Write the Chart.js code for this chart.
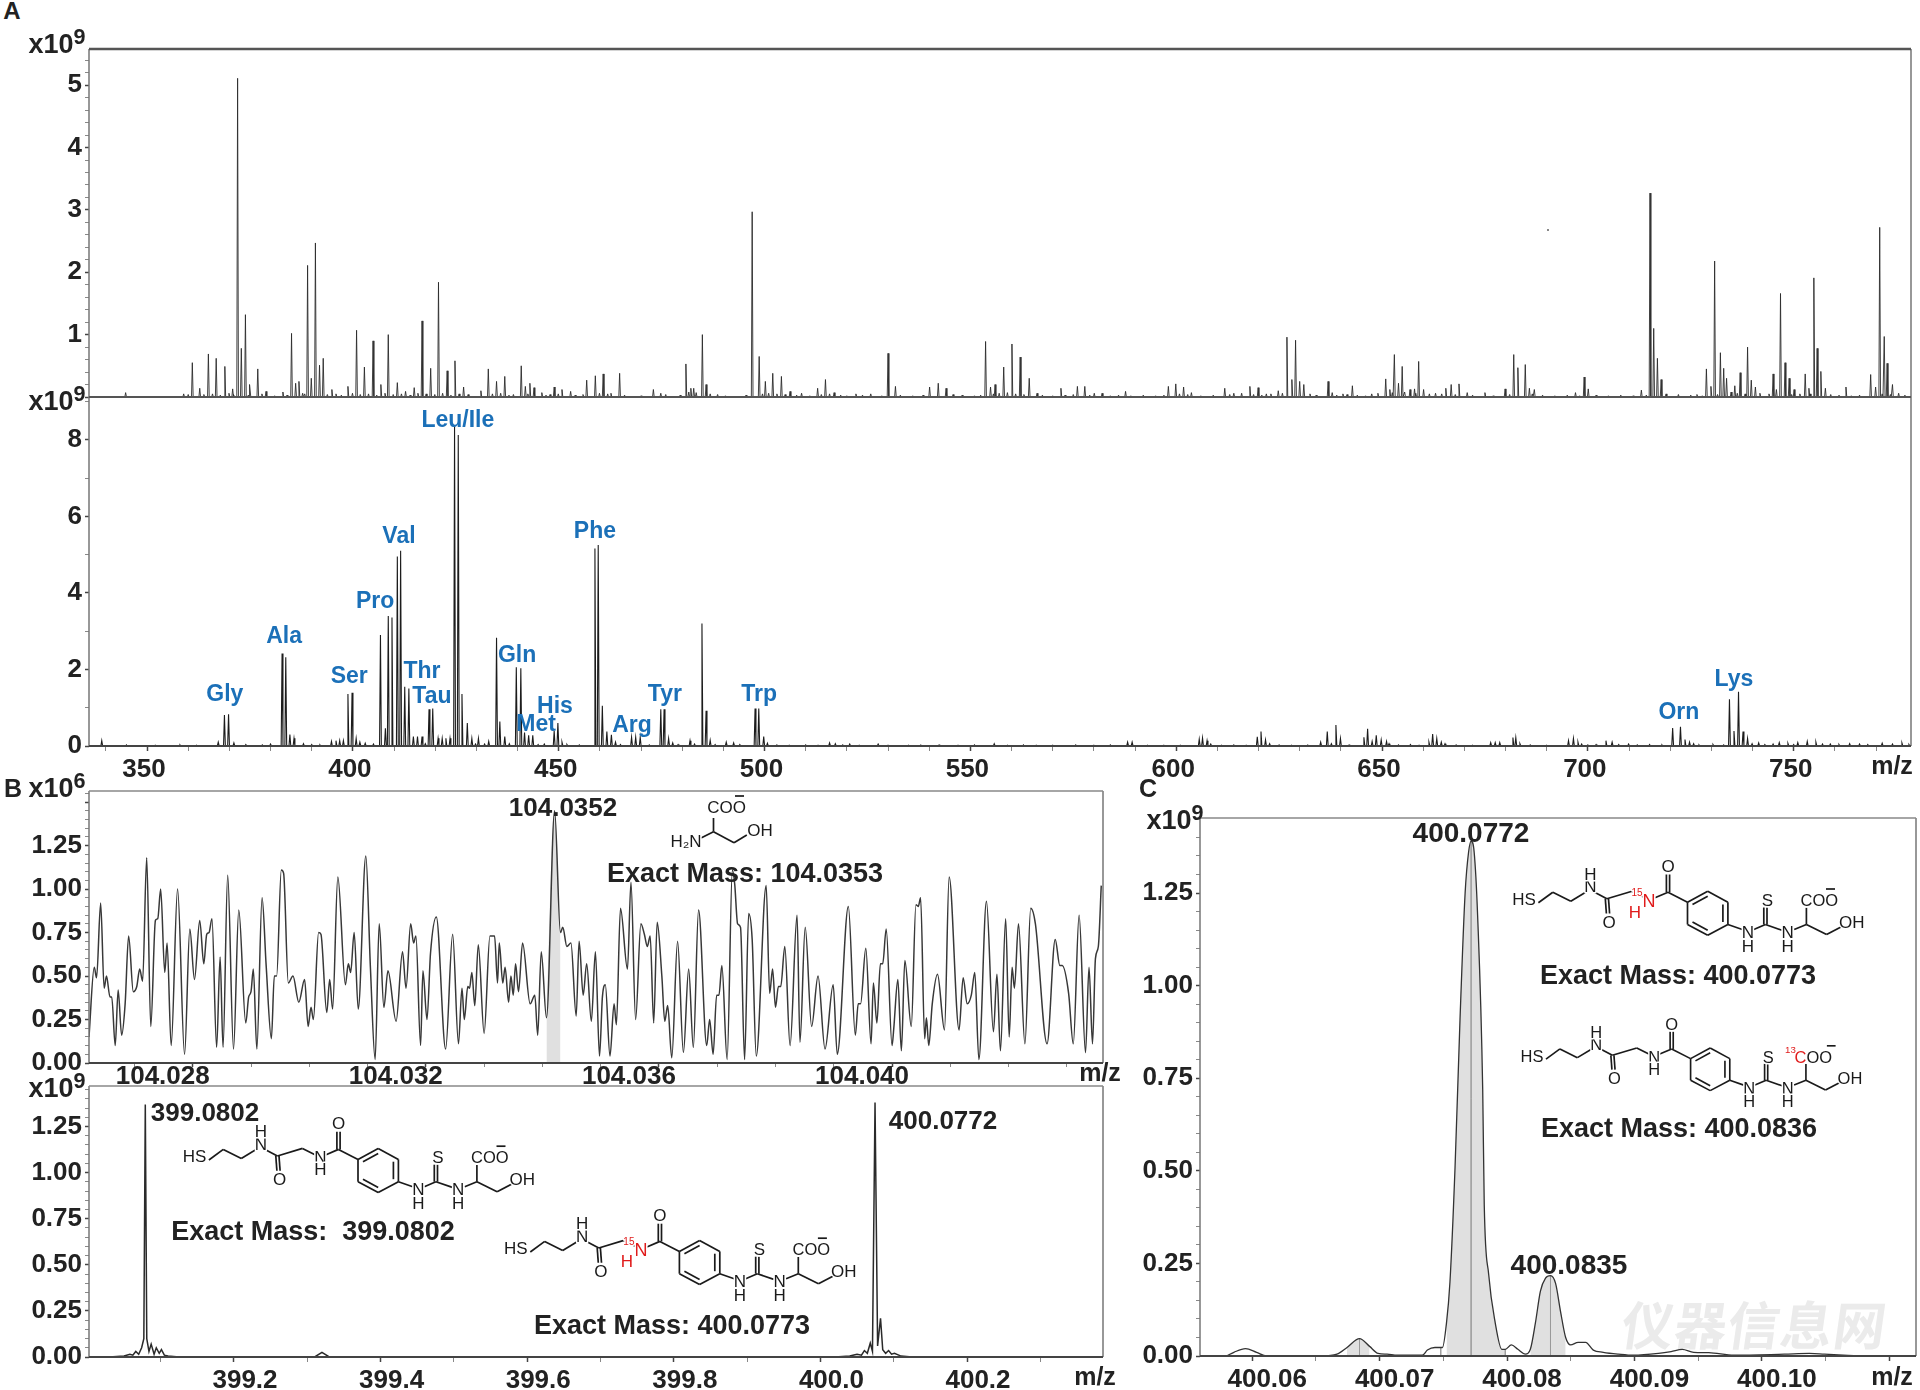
<!DOCTYPE html>
<html>
<head>
<meta charset="utf-8">
<style>
html, body { margin: 0; padding: 0; background: #fff; }
#page { position: relative; width: 1920px; height: 1390px; overflow: hidden; font-family: "Liberation Sans", Arial, sans-serif; }
#page canvas { position: absolute; }
#page svg { position: absolute; left: 0; top: 0; }
.lab { position: absolute; transform: translate(-50%, -50%); font-weight: bold; color: #222; white-space: nowrap; line-height: 1; }
.lab sup { font-size: 0.8em; vertical-align: 0.4em; line-height: 0; }
</style>
<script src="https://cdn.jsdelivr.net/npm/chart.js@4"></script>
</head>
<body>
<div id="page">
<div class="lab" style="left:1755px;top:1322px;font:bold 52px 'Noto Sans CJK SC';color:#ebebeb;letter-spacing:1px;transform:translate(-50%,-50%) skewX(-8deg)">仪器信息网</div>
</div>
<script>
// ---- panel A, upper spectrum
var topMz = [344.8,358.9,360,361,362.8,364.9,366.8,368.9,370.8,372,372.9,373.9,375,376.9,378.9,383,385.1,386.1,386.9,389,389.9,390.9,391.9,392.8,394.9,398.8,400.9,402.8,404.9,406.8,408.6,410.8,412.8,414.9,416.8,418.9,420.8,422.9,424.8,426.9,431.1,432.9,434.9,436.9,440.9,441.9,443,444,445.9,448.9,450.8,452.9,456.8,458.9,460.8,462.7,464.8,473,474.8,480.9,482.1,482.8,484.9,485.8,488.6,497,498.7,500.2,502,504.1,506.2,509,512.9,514.8,516.9,522.2,525.8,530,531.8,540.1,542.2,544.1,553.7,554.9,556,558.1,560.1,562.1,564.3,566.2,572,576,577.8,580.1,582,587.7,598.1,599.9,601.8,603.7,611.8,614,615.9,617.9,619.9,621.9,624.8,626.9,628.1,629,630,631,636.9,637.9,640.5,642.8,647.5,650.9,651.9,653,654,654.9,656.8,657.9,658.9,660.1,665.5,666.8,668.7,670.7,675,679.9,682,683,684.8,685.8,687,697,699.1,700.1,713,715.1,716,716.9,717.8,726.5,728.8,729.9,730.8,732.2,733,733.7,735.7,737,738.8,739.7,740.7,745,745.8,746.8,747.9,748.9,750.1,752.8,753.7,754.9,755.7,756.6,757.7,762.7,768.7,769.9,770.9,772,772.7,774];
var topInt = [0.07,0.05,0.04,0.55,0.14,0.69,0.62,0.49,0.13,5.11,0.78,1.32,0.2,0.45,0.09,0.08,1.02,0.22,0.25,2.11,0.3,2.47,0.51,0.62,0.12,0.17,1.07,0.48,0.9,0.2,1.0,0.23,0.09,0.15,1.22,0.46,1.84,0.42,0.58,0.16,0.1,0.45,0.25,0.33,0.5,0.17,0.22,0.15,0.07,0.16,0.12,0.09,0.27,0.34,0.37,0.06,0.38,0.12,0.06,0.53,0.14,0.14,1.0,0.2,0.04,2.97,0.65,0.25,0.38,0.33,0.09,0.06,0.14,0.28,0.07,0.05,0.05,0.7,0.17,0.16,0.22,0.14,0.89,0.16,0.2,0.48,0.85,0.64,0.3,0.06,0.14,0.17,0.17,0.06,0.06,0.09,0.17,0.21,0.16,0.07,0.14,0.06,0.06,0.17,0.15,0.05,0.1,0.96,0.28,0.91,0.25,0.2,0.25,0.07,0.05,0.18,0.05,0.29,0.12,0.68,0.22,0.49,0.12,0.13,0.57,0.12,0.14,0.2,0.21,0.07,0.07,0.13,0.68,0.47,0.52,0.14,0.12,0.07,0.32,0.13,0.11,3.27,1.1,0.62,0.28,0.04,0.45,0.17,2.18,0.71,0.46,0.3,0.18,0.39,0.8,0.27,0.16,0.37,0.12,1.66,0.55,0.3,0.12,0.37,0.14,1.91,0.78,0.41,0.14,0.16,0.36,0.16,2.72,0.97,0.54,0.2];
var topGrassMz = [363.8,365.9,367.8,369.9,371.1,374.6,377.9,381,384,387.8,388.3,393.8,395.9,397.2,399.9,401.8,403.8,405.8,407.8,409.8,411.8,413.9,415.8,417.8,419.9,421.8,423.8,425.8,428,433.9,435.9,437.9,439,442.5,446.9,447.9,449.9,454,455.9,459.9,461.9,466,470,476,479.5,481.6,483.4,486.8,490.5,495.5,499.5,501,503,505,507.8,511,513.8,515.8,518.5,520,523.8,528.5,533,536,538.5,545.8,548,551,552.5,555.6,557,559,561,563,567.5,570,573,575,579,584,586,589,592,595,597,600.8,602.8,606,609,613,618.8,620.8,623,625.8,632.5,634,639,641.5,644,646,649,652.5,655.5,658.2,661.5,663,664.5,667.8,672,677,681,686.5,689,692,695,698,702,705,708,711,714.2,719,722,725,727.8,731.5,734.8,736.3,738.2,741.8,744,749.5,751.5,754,759,761,764,766,771.5,773.5,775.5,777];
var topGrassInt = [0.04,0.05,0.03,0.06,0.04,0.03,0.05,0.02,0.03,0.06,0.05,0.04,0.05,0.03,0.06,0.04,0.05,0.03,0.06,0.04,0.05,0.03,0.06,0.05,0.04,0.06,0.03,0.05,0.04,0.05,0.06,0.03,0.04,0.05,0.03,0.04,0.05,0.03,0.04,0.06,0.05,0.03,0.02,0.04,0.03,0.08,0.07,0.05,0.02,0.03,0.05,0.06,0.05,0.04,0.03,0.02,0.04,0.05,0.03,0.02,0.03,0.02,0.03,0.02,0.03,0.04,0.03,0.02,0.03,0.05,0.06,0.07,0.05,0.04,0.03,0.02,0.03,0.04,0.03,0.02,0.03,0.02,0.03,0.02,0.03,0.05,0.04,0.02,0.03,0.04,0.04,0.03,0.05,0.06,0.05,0.03,0.03,0.04,0.03,0.02,0.06,0.07,0.08,0.06,0.05,0.06,0.05,0.04,0.03,0.02,0.04,0.05,0.03,0.02,0.03,0.02,0.03,0.02,0.03,0.02,0.03,0.05,0.04,0.03,0.02,0.04,0.08,0.06,0.05,0.06,0.05,0.04,0.05,0.05,0.04,0.03,0.02,0.03,0.05,0.04,0.06,0.03,0.02];

// ---- panel A, lower spectrum
var lowMz = [339,367.3,368.8,369.8,371.1,382.8,383.7,384.7,385.7,394.8,395.9,396.8,397.7,398.8,399.8,400.8,401.7,406.7,407.9,408.6,409.5,410.8,411.6,412.6,413.6,414.7,415.7,416.8,418.5,419.4,420.7,421.7,422.6,423.6,424.7,425.6,426.5,427.8,428.9,430.5,433,434.9,435.7,436.9,439.7,440.8,441.7,442.7,443.7,448.9,449.8,450.8,458.8,459.6,460.6,461.7,462.8,463.8,467.7,468.7,469.8,474.8,475.6,476.7,477.7,481.9,484.8,485.8,486.8,490.7,492.5,497.7,498.6,499.8,500.7,515.8,517.2,520.7,527.6,542.4,555.8,562.9,575.6,588.2,589.3,605.6,606.4,607.5,608.4,619.7,620.6,621.7,622.7,635.1,636.7,637.7,638.8,639.9,645.6,646.5,647.6,648.6,649.8,651.1,651.7,656.9,661.4,662.3,663.3,664.4,665.3,676.4,677.5,678.6,681.8,682.5,683.5,695.3,696.5,697.6,698.5,704.4,705.9,709.9,720.6,722.5,723.6,724.7,725.7,730.4,734.4,735.5,736.6,737.7,738.8,739.9,741.5,746.5,748.6,751,753.3,755.4,758.9,763.6,771.5,776.3];
var lowInt = [0.14,0.1,0.81,0.83,0.08,2.42,2.32,0.3,0.2,0.12,0.14,0.14,0.14,1.36,1.39,0.2,0.1,2.9,0.46,3.4,3.36,4.95,5.1,1.55,1.5,0.25,0.25,0.25,0.96,0.98,0.2,0.2,0.2,0.2,8.35,8.13,1.36,0.6,0.2,0.2,0.12,2.83,0.64,0.25,2.06,2.03,0.35,0.28,0.28,0.4,0.6,0.1,5.16,5.25,1.05,0.38,0.29,0.1,0.23,0.23,0.23,0.96,0.96,0.2,0.08,0.14,3.2,0.92,0.15,0.1,0.08,0.98,0.98,0.25,0.07,0.08,0.06,0.05,0.05,0.03,0.06,0.03,0.03,0.1,0.1,0.18,0.21,0.14,0.05,0.24,0.38,0.16,0.06,0.1,0.38,0.06,0.55,0.2,0.23,0.45,0.12,0.28,0.16,0.12,0.06,0.04,0.1,0.31,0.2,0.1,0.06,0.09,0.09,0.09,0.22,0.22,0.06,0.14,0.2,0.1,0.05,0.14,0.1,0.05,0.47,0.5,0.17,0.1,0.06,0.04,1.22,0.39,1.42,0.38,0.2,0.06,0.08,0.09,0.07,0.09,0.12,0.1,0.05,0.06,0.07,0.08];
var lowGrassMz = [345,352,358,362,374,378,380,388,390,392,403,405,417.6,429.8,432,438,445,446.5,452,455,465,472,479,483,488,494,503,506,510,513,519,523,530,535,538,547,551,559,566,570,580,584,593,597,601,611,614,617,625,628,632,642,654,659,668,672,686,690,700,702,707.5,712,715,718,727,733,743,745,750,757,761,766,768,774,778];
var lowGrassInt = [0.03,0.02,0.03,0.02,0.04,0.03,0.05,0.06,0.04,0.03,0.07,0.05,0.06,0.05,0.05,0.06,0.04,0.05,0.04,0.03,0.04,0.03,0.04,0.05,0.04,0.04,0.03,0.02,0.03,0.02,0.03,0.02,0.02,0.02,0.02,0.02,0.03,0.02,0.02,0.02,0.02,0.03,0.02,0.02,0.02,0.02,0.03,0.02,0.03,0.02,0.02,0.03,0.03,0.02,0.03,0.02,0.03,0.02,0.03,0.04,0.04,0.03,0.04,0.03,0.03,0.03,0.04,0.05,0.04,0.05,0.04,0.05,0.04,0.05,0.04];
var aminoNames = ['Gly','Ala','Ser','Pro','Val','Thr','Tau','Leu/Ile','Gln','His','Met','Phe','Arg','Tyr','Trp','Orn','Lys'];
var aminoMz = [368.9,383.3,399.1,405.4,411.2,416.8,419.2,425.5,439.9,449.1,444.5,458.8,467.8,475.8,498.7,722.1,735.5];
var aminoLevel = [1.33,2.87,1.8,3.76,5.46,1.95,1.3,8.49,2.35,1.04,0.57,5.59,0.52,1.35,1.33,0.86,1.74];

// ---- panel B, serine trace
var serMz = [104.02622,104.02631,104.02635,104.02642,104.02648,104.02652,104.02658,104.02661,104.02667,104.02672,104.02678,104.02684,104.0269,104.02698,104.02704,104.02709,104.02714,104.02721,104.02728,104.02736,104.0274,104.02745,104.02752,104.02756,104.02763,104.02774,104.02786,104.02795,104.02803,104.02812,104.02819,104.02824,104.02828,104.02833,104.02841,104.02847,104.02852,104.0286,104.0287,104.02879,104.02891,104.02896,104.029,104.02904,104.0291,104.02919,104.02926,104.02935,104.0294,104.02944,104.02952,104.02956,104.02964,104.02972,104.02982,104.02992,104.02998,104.03003,104.03007,104.03016,104.0302,104.0303,104.03035,104.0304,104.03049,104.03062,104.03067,104.03071,104.03077,104.03084,104.03097,104.03105,104.03113,104.0312,104.03128,104.03135,104.03149,104.0316,104.03166,104.03174,104.03179,104.03183,104.03191,104.03195,104.03202,104.03208,104.03218,104.03234,104.03246,104.03256,104.03262,104.03266,104.03272,104.03275,104.03279,104.03284,104.0329,104.033,104.0331,104.03318,104.03323,104.03326,104.03332,104.03336,104.03342,104.03346,104.0335,104.03354,104.03359,104.03366,104.03379,104.03387,104.03392,104.03398,104.03407,104.03421,104.03431,104.03435,104.03442,104.03449,104.03458,104.03463,104.0347,104.03476,104.03484,104.03491,104.03498,104.03503,104.03508,104.03516,104.03523,104.03527,104.03534,104.03546,104.03552,104.0356,104.03569,104.03575,104.0358,104.03585,104.03591,104.03597,104.03605,104.0361,104.03615,104.03622,104.03632,104.03642,104.03651,104.03659,104.03668,104.03682,104.03687,104.03693,104.03699,104.03703,104.03708,104.03717,104.03726,104.0373,104.03735,104.0374,104.03747,104.03754,104.0376,104.03767,104.03784,104.0379,104.03795,104.038,104.03805,104.03809,104.03816,104.03825,104.03837,104.03842,104.03851,104.03862,104.03873,104.03885,104.03899,104.03906,104.03925,104.03937,104.03942,104.03946,104.03955,104.03964,104.03968,104.03974,104.0398,104.03984,104.0399,104.04,104.04003,104.0401,104.04016,104.04022,104.04033,104.04041,104.04045,104.04049,104.04056,104.04059,104.04063,104.04069,104.04078,104.0409,104.04098,104.04115,104.04122,104.04129,104.04136,104.04142,104.04149,104.04162,104.04174,104.0418,104.04186,104.04195,104.04201,104.04206,104.0421,104.04217,104.04228,104.04238,104.04246,104.04266,104.0428,104.04288,104.04292,104.04303,104.04311,104.04321,104.04332,104.04338,104.04344,104.04349,104.04354,104.04359];
var serInt = [0.15,0.55,0.49,0.92,0.43,0.5,0.38,0.38,0.1,0.42,0.16,0.34,0.73,0.41,0.44,0.54,0.47,1.18,0.21,0.82,0.83,1.0,0.52,0.69,0.1,1.0,0.05,0.77,0.48,0.82,0.57,0.74,0.75,0.83,0.09,0.61,0.09,1.08,0.08,0.88,0.23,0.38,0.41,0.54,0.08,0.95,0.56,0.14,0.5,0.5,1.11,1.09,0.46,0.5,0.35,0.48,0.21,0.32,0.25,0.75,0.74,0.29,0.48,0.31,1.07,0.45,0.57,0.52,0.75,0.31,1.19,0.54,0.02,0.8,0.32,0.53,0.24,0.64,0.43,0.8,0.69,0.73,0.1,0.53,0.25,0.63,0.84,0.08,0.74,0.11,0.43,0.25,0.44,0.43,0.52,0.33,0.68,0.17,0.73,0.73,0.46,0.69,0.46,0.55,0.35,0.5,0.39,0.57,0.41,0.69,0.34,0.39,0.16,0.64,0.26,1.45,0.75,0.78,0.67,0.69,0.27,0.7,0.39,0.57,0.24,0.64,0.04,0.38,0.45,0.04,0.34,0.22,0.89,0.54,1.04,0.25,0.8,0.74,0.67,0.73,0.23,0.81,0.5,0.24,0.33,0.03,0.7,0.06,0.54,0.09,0.88,0.1,0.25,0.05,0.39,0.39,0.56,0.02,1.11,1.03,0.8,0.78,0.02,0.86,0.71,0.04,1.02,0.4,0.54,0.32,0.44,0.44,0.67,0.1,0.85,0.12,0.78,0.21,0.5,0.08,0.45,0.05,0.9,0.16,0.34,0.34,0.66,0.11,0.46,0.23,0.57,0.57,0.77,0.1,0.2,0.48,0.07,0.59,0.21,0.91,0.9,0.95,0.14,0.26,0.1,0.34,0.51,0.19,1.07,0.19,0.49,0.34,0.39,0.52,0.02,0.93,0.18,0.51,0.07,0.83,0.15,0.55,0.43,0.8,0.11,0.89,0.8,0.11,0.71,0.56,0.56,0.4,0.11,0.85,0.06,0.55,0.11,0.6,0.67,1.02];

// ---- panel B, lower full scan
var scanMz = [399.03,399.05,399.058,399.062,399.066,399.07,399.074,399.077,399.079,399.081,399.084,399.087,399.091,399.094,399.098,399.101,399.105,399.11,399.125,399.31,399.32,399.33,400.02,400.04,400.05,400.056,400.06,400.064,400.068,400.071,400.0745,400.078,400.082,400.085,400.089,400.093,400.097,400.101,400.11,400.125];
var scanInt = [0,0.005,0.015,0.01,0.03,0.015,0.05,0.1,1.37,0.1,0.03,0.07,0.015,0.05,0.02,0.04,0.01,0.005,0,0,0.025,0,0,0.005,0.015,0.01,0.035,0.02,0.075,0.03,1.38,0.06,0.21,0.04,0.02,0.035,0.015,0.02,0.005,0];

// ---- panel C, zoomed isotopologues
var isoMz = [400.05797,400.05856,400.05947,400.06034,400.06112,400.0627,400.06546,400.06665,400.06744,400.06842,400.06921,400.06988,400.07059,400.07138,400.07335,400.07375,400.07434,400.07493,400.07525,400.07552,400.07592,400.07631,400.07671,400.07698,400.07718,400.07742,400.07769,400.07809,400.07821,400.07856,400.07907,400.07959,400.07986,400.08034,400.08085,400.08144,400.08183,400.08223,400.08262,400.08302,400.08341,400.08381,400.0842,400.0846,400.08499,400.08558,400.08617,400.08677,400.08755,400.08874,400.08992,400.09189,400.09288,400.09375,400.09465,400.09584,400.09781,400.10176,400.10373,400.10491,400.10767];
var isoInt = [0,0.01,0.02,0.01,0,0,0,0.005,0.023,0.047,0.026,0.007,0.005,0.002,0.002,0.016,0.023,0.023,0.09,0.2,0.51,0.91,1.25,1.36,1.39,1.36,1.19,0.72,0.41,0.22,0.09,0.018,0.018,0.03,0.018,0.005,0.018,0.09,0.175,0.21,0.217,0.196,0.12,0.05,0.03,0.037,0.037,0.016,0.01,0.005,0.002,0.007,0.012,0.018,0.01,0.009,0.002,0.005,0.007,0.005,0];
var isoCentroids = [400.06842,400.0748,400.07718,400.07986,400.08341];
var isoCentroidInt = [0.047,0.023,1.39,0.018,0.217];

// tick labels
var panelATicks = ['350','400','450','500','550','600','650','700','750'];
var serTicks = ['104.028','104.032','104.036','104.040'];
var scanTicks = ['399.2','399.4','399.6','399.8','400.0','400.2'];
var isoTicks = ['400.06','400.07','400.08','400.09','400.10'];
var unitTicks = ['0.00','0.25','0.50','0.75','1.00','1.25'];
var panelAUpperTicks = ['1','2','3','4','5'];
var panelALowerTicks = ['0','2','4','6','8'];

var page = document.getElementById('page');
var FONT = '"Liberation Sans", Arial, sans-serif';
var GUT_L = 70, GUT_B = 42, PAD_T = 20, PAD_R = 14;

// x positions built into spikes with a narrow foot
function spikes(mzs, ints, halfWidth) {
	var order = mzs.map(function(m, i) { return [m, ints[i]]; });
	order.sort(function(a, b) { return a[0] - b[0]; });
	var pts = [];
	order.forEach(function(p) {
		pts.push({x: p[0] - halfWidth, y: 0});
		pts.push({x: p[0], y: p[1]});
		pts.push({x: p[0] + halfWidth, y: 0});
	});
	return pts;
}
function points(mzs, ints, from, to) {
	var pts = [];
	mzs.forEach(function(m, i) {
		if (from === undefined || (m >= from && m <= to)) pts.push({x: m, y: ints[i]});
	});
	return pts;
}
function buildTicks(start, minorStep, everyMajor, min, max, digits) {
	var list = [], n = Math.ceil((min - start) / minorStep);
	for (var k = n; start + k * minorStep <= max + 1e-9; k++) {
		var v = +(start + k * minorStep).toFixed(digits);
		list.push({value: v, major: ((k % everyMajor) + everyMajor) % everyMajor === 0});
	}
	return list;
}
// only the values in the list get a label
function labelsFrom(list, digits) {
	return function(v) {
		var s = v.toFixed(digits);
		return list.indexOf(s) >= 0 ? s : '';
	};
}
function boxPlugin(topColor, topWidth) {
	return {
		id: 'panelBox',
		afterDraw: function(chart) {
			var a = chart.chartArea, c = chart.ctx;
			c.save();
			c.strokeStyle = '#777';
			c.lineWidth = 1.5;
			c.beginPath();
			c.moveTo(a.left, a.top); c.lineTo(a.left, a.bottom);
			c.moveTo(a.right, a.top); c.lineTo(a.right, a.bottom);
			c.stroke();
			c.strokeStyle = topColor;
			c.lineWidth = topWidth;
			c.beginPath(); c.moveTo(a.left, a.top); c.lineTo(a.right, a.top); c.stroke();
			c.strokeStyle = '#444';
			c.lineWidth = 2;
			c.beginPath(); c.moveTo(a.left, a.bottom); c.lineTo(a.right, a.bottom); c.stroke();
			c.restore();
		}
	};
}
var aminoPlugin = {
	id: 'aminoLabels',
	afterDatasetsDraw: function(chart) {
		var c = chart.ctx;
		c.save();
		c.font = 'bold 23px ' + FONT;
		c.fillStyle = '#1b70b8';
		c.textAlign = 'center';
		c.textBaseline = 'middle';
		aminoNames.forEach(function(name, i) {
			c.fillText(name, chart.scales.x.getPixelForValue(aminoMz[i]), chart.scales.y.getPixelForValue(aminoLevel[i]));
		});
		c.restore();
	}
};

function axisOpts(t) {
	return {
		type: 'linear',
		min: t.min,
		max: t.max,
		display: t.display !== false,
		border: {display: false},
		grid: {
			drawOnChartArea: false,
			drawTicks: true,
			tickLength: t.tickLength || 5,
			tickColor: function(ctx) { return ctx.tick && ctx.tick.major ? '#444' : '#888'; },
			tickWidth: function(ctx) { return ctx.tick && ctx.tick.major ? 1.5 : 1; }
		},
		ticks: {
			autoSkip: false,
			maxRotation: 0,
			minRotation: 0,
			padding: t.padding === undefined ? 3 : t.padding,
			labelOffset: t.labelOffset || 0,
			color: '#222',
			font: {family: FONT, weight: 'bold', size: t.size || 26},
			callback: function(v, i, all) {
				return all[i] && all[i].major ? t.fmt(v) : '';
			}
		},
		afterBuildTicks: function(axis) { axis.ticks = t.ticks; },
		afterFit: function(axis) {
			if (t.horizontal) axis.height = GUT_B; else axis.width = GUT_L;
		}
	};
}
function panel(box, datasets, xOpts, yOpts, plugins) {
	var cv = document.createElement('canvas');
	cv.width = box.w + GUT_L + PAD_R;
	cv.height = box.h + PAD_T + GUT_B;
	cv.style.left = (box.l - GUT_L) + 'px';
	cv.style.top = (box.t - PAD_T) + 'px';
	page.appendChild(cv);
	xOpts.horizontal = true;
	return new Chart(cv, {
		type: 'line',
		data: {datasets: datasets},
		options: {
			responsive: false,
			animation: false,
			parsing: false,
			layout: {padding: {top: PAD_T, right: PAD_R, left: 0, bottom: 0}},
			elements: {point: {radius: 0}},
			plugins: {legend: {display: false}, tooltip: {enabled: false}},
			scales: {x: axisOpts(xOpts), y: axisOpts(yOpts)}
		},
		plugins: plugins
	});
}
function trace(data, color, width, order, smooth) {
	return {data: data, borderColor: color, borderWidth: width, fill: false, order: order || 0,
		cubicInterpolationMode: smooth ? 'monotone' : 'default', tension: 0};
}
function shade(data, order) {
	return {data: data, borderWidth: 0, borderColor: 'rgba(0,0,0,0)', backgroundColor: '#e0e0e0', fill: 'origin',
		order: order || 3, cubicInterpolationMode: 'monotone'};
}

// panel A upper
panel({l: 89, t: 49, w: 1822, h: 348},
	[trace(spikes(topMz.concat(topGrassMz), topInt.concat(topGrassInt), 0.2), '#2b2b2b', 0.9)],
	{min: 335.9, max: 778.5, display: false, ticks: [], fmt: String},
	{min: 0, max: 5.58, ticks: buildTicks(0, 0.2, 5, 0, 5.58, 1), fmt: labelsFrom(panelAUpperTicks, 0), tickLength: 4},
	[boxPlugin('#555', 2.5)]);

// panel A lower
panel({l: 89, t: 397, w: 1822, h: 349},
	[trace(spikes(lowMz.concat(lowGrassMz), lowInt.concat(lowGrassInt), 0.22), '#1c1c1c', 1.1)],
	{min: 335.9, max: 778.5, ticks: buildTicks(350, 10, 5, 336, 778, 0), fmt: labelsFrom(panelATicks, 0), labelOffset: -3, padding: 3},
	{min: 0, max: 9.12, ticks: buildTicks(0, 1, 2, 0, 9, 0), fmt: labelsFrom(panelALowerTicks, 0), tickLength: 4},
	[boxPlugin('#555', 2), aminoPlugin]);

// panel B upper
panel({l: 89, t: 791, w: 1014, h: 272},
	[shade(points(serMz, serInt, 104.03407, 104.03431)),
	 trace(points(serMz, serInt), '#383838', 1.5, 0, true)],
	{min: 104.02622, max: 104.04362, ticks: buildTicks(104.028, 0.001, 4, 104.0263, 104.0436, 3), fmt: labelsFrom(serTicks, 3), labelOffset: -30, padding: -6, tickLength: 4},
	{min: 0, max: 1.564, ticks: buildTicks(0, 0.05, 5, 0, 1.55, 2), fmt: labelsFrom(unitTicks, 2), tickLength: 4},
	[boxPlugin('#888', 1.5)]);

// panel B lower
panel({l: 89, t: 1086, w: 1014, h: 271},
	[trace(points(scanMz, scanInt), '#2a2a2a', 1.5)],
	{min: 399.0022, max: 400.3855, ticks: buildTicks(399.2, 0.1, 2, 399.01, 400.38, 1), fmt: labelsFrom(scanTicks, 1), labelOffset: 11, padding: 3},
	{min: 0, max: 1.47, ticks: buildTicks(0, 0.05, 5, 0, 1.45, 2), fmt: labelsFrom(unitTicks, 2), tickLength: 4},
	[boxPlugin('#888', 1.5)]);

// panel C
panel({l: 1200, t: 818, w: 716, h: 538},
	[shade(points(isoMz, isoInt, 400.06744, 400.06921)),
	 shade(points(isoMz, isoInt, 400.07525, 400.07986)),
	 shade(points(isoMz, isoInt, 400.08183, 400.0846)),
	 trace(spikes(isoCentroids, isoCentroidInt, 0.000001), '#999', 1, 2),
	 trace(points(isoMz, isoInt), '#333', 1.3, 0, true)],
	{min: 400.0559, max: 400.1121, ticks: buildTicks(400.06, 0.005, 2, 400.056, 400.112, 3), fmt: labelsFrom(isoTicks, 2), labelOffset: 15, padding: 3},
	{min: 0, max: 1.4525, ticks: buildTicks(0, 0.05, 5, 0, 1.45, 2), fmt: labelsFrom(unitTicks, 2), tickLength: 4},
	[boxPlugin('#888', 1.5)]);

// ---- text around the panels
function label(html, x, y, size) {
	var d = document.createElement('div');
	d.className = 'lab';
	d.innerHTML = html;
	d.style.left = x + 'px';
	d.style.top = y + 'px';
	d.style.fontSize = size + 'px';
	page.appendChild(d);
}
label('A', 12, 11, 24);
label('B', 13, 788, 25);
label('C', 1148, 788, 25);
label('x10<sup>9</sup>', 57, 44, 27);
label('x10<sup>9</sup>', 57, 401, 27);
label('x10<sup>6</sup>', 57, 788, 27);
label('x10<sup>9</sup>', 57, 1088, 27);
label('x10<sup>9</sup>', 1175, 820, 27);
label('m/z', 1892, 765, 25);
label('m/z', 1100, 1072, 25);
label('m/z', 1095, 1376, 25);
label('m/z', 1892, 1376, 25);
label('104.0352', 563, 807, 26);
label('399.0802', 205, 1112, 26);
label('400.0772', 943, 1120, 26);
label('400.0772', 1471, 833, 28);
label('400.0835', 1569, 1265, 28);
label('Exact Mass: 104.0353', 745, 873, 27);
label('Exact Mass:&nbsp; 399.0802', 313, 1231, 27);
label('Exact Mass: 400.0773', 672, 1325, 27);
label('Exact Mass: 400.0773', 1678, 975, 27);
label('Exact Mass: 400.0836', 1679, 1128, 27);

// ---- structures
var NS = 'http://www.w3.org/2000/svg';
var svg = document.createElementNS(NS, 'svg');
svg.setAttribute('width', 1920);
svg.setAttribute('height', 1390);
page.appendChild(svg);

function bond(g, seg) {
	var l = document.createElementNS(NS, 'line');
	l.setAttribute('x1', seg[0]); l.setAttribute('y1', seg[1]);
	l.setAttribute('x2', seg[2]); l.setAttribute('y2', seg[3]);
	l.setAttribute('stroke', '#1a1a1a');
	l.setAttribute('stroke-width', 1.7);
	g.appendChild(l);
}
function atom(g, txt, x, y, color, size, anchor) {
	var t = document.createElementNS(NS, 'text');
	t.textContent = txt;
	t.setAttribute('x', x); t.setAttribute('y', y);
	t.setAttribute('fill', color || '#1a1a1a');
	t.setAttribute('font-family', 'Liberation Sans');
	t.setAttribute('font-size', size || 17);
	t.setAttribute('text-anchor', anchor || 'middle');
	t.setAttribute('dominant-baseline', 'central');
	t.setAttribute('stroke', '#fff');
	t.setAttribute('stroke-width', 3);
	t.setAttribute('paint-order', 'stroke');
	t.setAttribute('stroke-linejoin', 'round');
	g.appendChild(t);
}
var backbone = [
	[14.4,3.3,28.8,-7.3],[28.8,-7.3,46.8,1.7],[46.8,1.7,61.2,-7],[70.6,-7.3,82.9,-0.7],[82.9,-0.7,108,-8.3],
	[108,-8.3,121,-1.7],[131,-1.7,144,-7.3],[144,-7.3,163.5,2.7],
	[163.5,2.7,183.7,-8.3],[183.7,-8.3,203.9,2.7],[203.9,2.7,203.9,25],[203.9,25,183.7,35.7],[183.7,35.7,163.5,25],[163.5,25,163.5,2.7],
	[168.5,5,183.7,-3.3],[198.9,5,198.9,22.5],[168.5,22.5,183.7,30.7],
	[203.9,25,218.3,30],[229.8,30,241.4,25],[241.4,25,257.9,30.7],[270.2,30,282.4,25],
	[282.4,25,282.4,8.3],[282.4,25,302.6,35],[302.6,35,318.4,26.7],
	[81.3,-0.7,82.4,14],[84.5,-0.7,85.6,14],[142.4,-7.3,142.4,-25],[145.6,-7.3,145.6,-25],[239.8,25,239.8,8],[243,25,243,8]
];
function molecule(x0, y0, scale, variant) {
	var g = document.createElementNS(NS, 'g');
	g.setAttribute('transform', 'translate(' + x0 + ',' + y0 + ') scale(' + scale + ')');
	svg.appendChild(g);
	backbone.forEach(function(s) { bond(g, s); });
	atom(g, 'HS', 0, 0);
	atom(g, 'N', 66.3, -12.7); atom(g, 'H', 66.3, -25);
	atom(g, 'O', 85, 22.7);
	atom(g, 'O', 144, -33.3);
	atom(g, 'N', 224, 33.3); atom(g, 'H', 224, 46.7);
	atom(g, 'S', 243.5, 0.7);
	atom(g, 'N', 263.7, 33.3); atom(g, 'H', 263.7, 46.7);
	atom(g, 'OH', 327.8, 22.7);
	if (variant === '15N') {
		atom(g, 'N', 125, 1, '#e01b1b', 18);
		atom(g, 'H', 111, 13, '#e01b1b', 17);
		atom(g, '15', 113, -7, '#e01b1b', 10);
	} else {
		atom(g, 'N', 126, 0.7); atom(g, 'H', 126, 13.3);
	}
	if (variant === '13C') {
		atom(g, 'C', 283, 0.7, '#e01b1b', 17, 'end');
		atom(g, '13', 272, -7, '#e01b1b', 10, 'end');
		atom(g, 'OO', 283, 0.7, '#1a1a1a', 17, 'start');
		bond(g, [304, -10.5, 313, -10.5]);
	} else {
		atom(g, 'COO', 295.4, 0.7, '#1a1a1a', 16.5);
		bond(g, [302, -10.5, 311, -10.5]);
	}
}
molecule(194.5, 1156.7, 1, '');
molecule(515.9, 1248.7, 1, '15N');
molecule(1524, 899.5, 1, '15N');
molecule(1532, 1056, 0.97, '13C');

// serine
var ser = document.createElementNS(NS, 'g');
svg.appendChild(ser);
[[701,838,713.5,831.7],[713.5,831.7,713.5,818],[713.5,831.7,734,842.7],[734,842.7,746.8,835]].forEach(function(s) { bond(ser, s); });
atom(ser, 'COO', 726.5, 807);
bond(ser, [735, 796, 744, 796]);
atom(ser, 'H\u2082N', 686, 841);
atom(ser, 'OH', 760, 830);

// speck in panel A
var speck = document.createElementNS(NS, 'rect');
speck.setAttribute('x', 1547); speck.setAttribute('y', 229);
speck.setAttribute('width', 2); speck.setAttribute('height', 2);
speck.setAttribute('fill', '#888');
svg.appendChild(speck);
</script>
</body>
</html>
